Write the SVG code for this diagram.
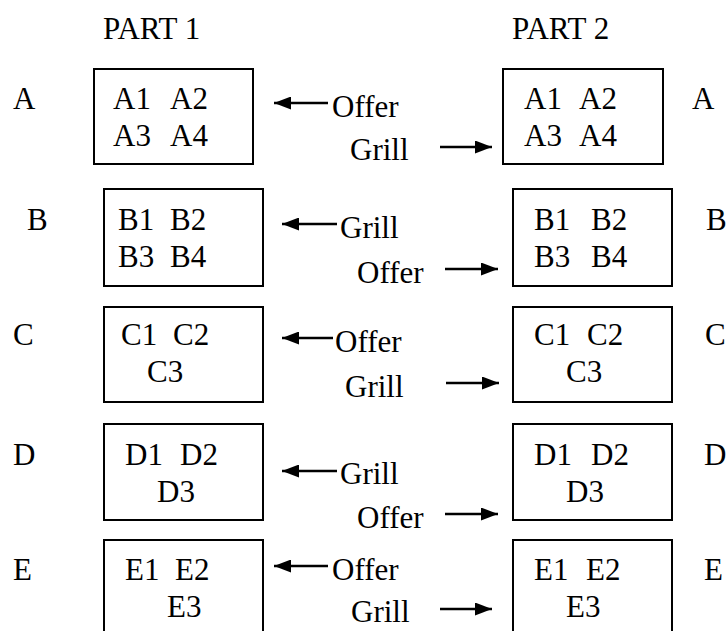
<svg xmlns="http://www.w3.org/2000/svg" width="728" height="631" viewBox="0 0 728 631" font-family="'Liberation Serif', 'Times New Roman', 'DejaVu Serif', serif" font-size="31">
<defs>
<marker id="ah" markerUnits="userSpaceOnUse" markerWidth="17" markerHeight="13" refX="17" refY="6.5" orient="auto" viewBox="0 0 17 13">
<path d="M0,0 L17,6.5 L0,13 z" fill="#000"/>
</marker>
<style>
text{font-family:'Liberation Serif','Times New Roman','DejaVu Serif',serif;font-size:31px;fill:#000}
.box{fill:#fff;stroke:#000;stroke-width:2}
.arr{fill:none;stroke:#000;stroke-width:2.4;marker-end:url(#ah)}
</style>
</defs>
<rect width="728" height="631" fill="#fff"/>
<g id="headers">
<text x="103" y="39">PART 1</text>
<text x="512" y="39">PART 2</text>
</g>
<g id="row-labels">
<text x="13" y="109">A</text>
<text x="27" y="230">B</text>
<text x="13" y="345">C</text>
<text x="13" y="465">D</text>
<text x="13" y="580">E</text>
<text x="692" y="109">A</text>
<text x="706" y="230">B</text>
<text x="705" y="345">C</text>
<text x="704" y="465">D</text>
<text x="704" y="580">E</text>
</g>
<g id="node-A1">
<rect class="box" x="94" y="69" width="159" height="95"/>
<text y="109"><tspan x="113">A1</tspan> <tspan x="170">A2</tspan></text>
<text y="146"><tspan x="113">A3</tspan> <tspan x="170">A4</tspan></text>
</g>
<g id="node-A2">
<rect class="box" x="503" y="69" width="160" height="95"/>
<text y="109"><tspan x="524">A1</tspan> <tspan x="579">A2</tspan></text>
<text y="146"><tspan x="524">A3</tspan> <tspan x="579">A4</tspan></text>
</g>
<g id="node-B1">
<rect class="box" x="104" y="189" width="159" height="97"/>
<text y="230"><tspan x="118">B1</tspan> <tspan x="170">B2</tspan></text>
<text y="267"><tspan x="118">B3</tspan> <tspan x="170">B4</tspan></text>
</g>
<g id="node-B2">
<rect class="box" x="513" y="189" width="159" height="97"/>
<text y="230"><tspan x="534">B1</tspan> <tspan x="591">B2</tspan></text>
<text y="267"><tspan x="534">B3</tspan> <tspan x="591">B4</tspan></text>
</g>
<g id="node-C1">
<rect class="box" x="104" y="307" width="159" height="95"/>
<text y="345"><tspan x="121">C1</tspan> <tspan x="173">C2</tspan></text>
<text x="147" y="382">C3</text>
</g>
<g id="node-C2">
<rect class="box" x="513" y="307" width="159" height="95"/>
<text y="345"><tspan x="534">C1</tspan> <tspan x="587">C2</tspan></text>
<text x="566" y="382">C3</text>
</g>
<g id="node-D1">
<rect class="box" x="104" y="424" width="159" height="96"/>
<text y="465"><tspan x="125">D1</tspan> <tspan x="180">D2</tspan></text>
<text x="157" y="502">D3</text>
</g>
<g id="node-D2">
<rect class="box" x="513" y="424" width="159" height="96"/>
<text y="465"><tspan x="534">D1</tspan> <tspan x="591">D2</tspan></text>
<text x="566" y="502">D3</text>
</g>
<g id="node-E1">
<rect class="box" x="104" y="540" width="159" height="100"/>
<text y="580"><tspan x="125">E1</tspan> <tspan x="175">E2</tspan></text>
<text x="167" y="617">E3</text>
</g>
<g id="node-E2">
<rect class="box" x="513" y="540" width="159" height="100"/>
<text y="580"><tspan x="534">E1</tspan> <tspan x="586">E2</tspan></text>
<text x="566" y="617">E3</text>
</g>
<g id="connectors">
<path class="arr" d="M328,103 H274"/>
<path class="arr" d="M440,147 H492"/>
<path class="arr" d="M337,224 H282"/>
<path class="arr" d="M445,269 H498"/>
<path class="arr" d="M333,338 H282"/>
<path class="arr" d="M446,383 H499"/>
<path class="arr" d="M337,471 H282"/>
<path class="arr" d="M445,514 H498"/>
<path class="arr" d="M328,566 H274"/>
<path class="arr" d="M440,609 H492"/>
</g>
<g id="connector-labels">
<text x="332" y="117">Offer</text>
<text x="350" y="160">Grill</text>
<text x="340" y="238">Grill</text>
<text x="357" y="283">Offer</text>
<text x="335" y="352">Offer</text>
<text x="345" y="397">Grill</text>
<text x="340" y="484">Grill</text>
<text x="357" y="528">Offer</text>
<text x="332" y="580">Offer</text>
<text x="351" y="622">Grill</text>
</g>
</svg>
